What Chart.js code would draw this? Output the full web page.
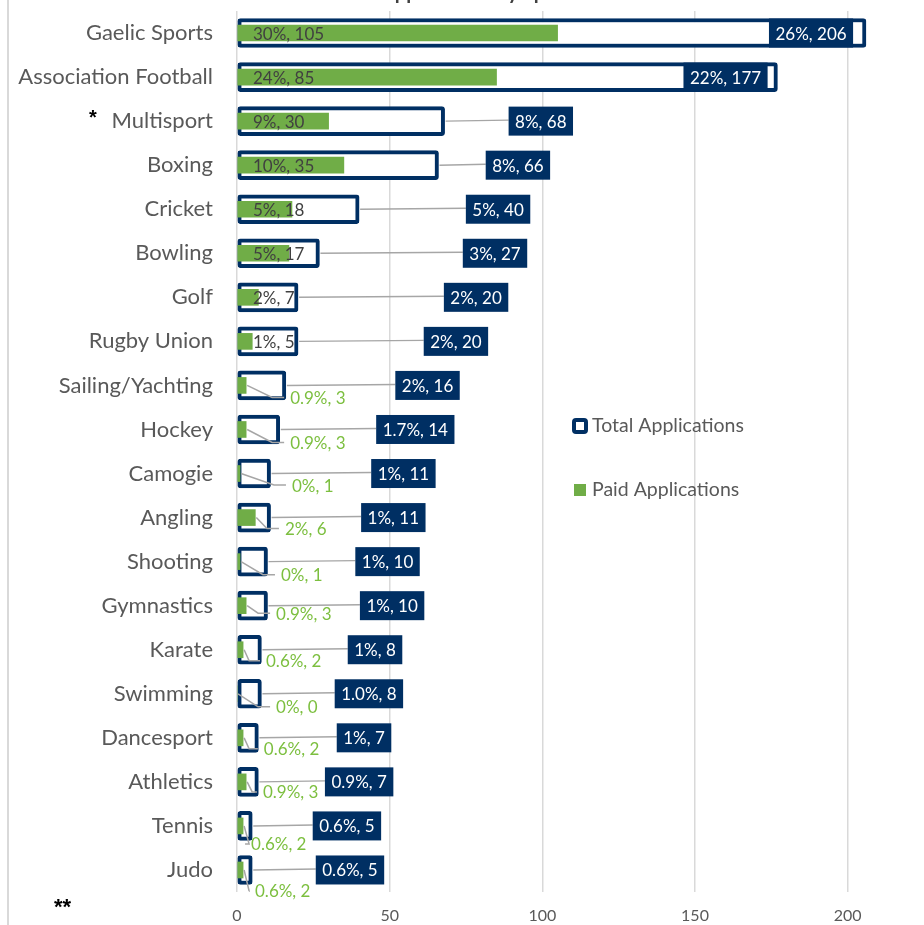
<!DOCTYPE html>
<html>
<head>
<meta charset="utf-8">
<script src="https://cdn.jsdelivr.net/npm/chart.js@4"></script>
<style>
  body { margin: 0; background: #fff; }
  #wrap { position: relative; width: 924px; height: 925px; overflow: hidden; }
  #wrap:before { content: ''; position: absolute; left: 7px; top: 0; bottom: 0; width: 2px; background: #d9d9d9; }
  canvas { position: absolute; left: 0; top: 0; }
</style>
</head>
<body>
<div id="wrap"><canvas id="chart" width="924" height="925"></canvas></div>
<script>
var sports = ['Gaelic Sports', 'Association Football', 'Multisport', 'Boxing', 'Cricket', 'Bowling', 'Golf', 'Rugby Union',
  'Sailing/Yachting', 'Hockey', 'Camogie', 'Angling', 'Shooting', 'Gymnastics', 'Karate', 'Swimming', 'Dancesport',
  'Athletics', 'Tennis', 'Judo'];
var totalApps = [206, 177, 68, 66, 40, 27, 20, 20, 16, 14, 11, 11, 10, 10, 8, 8, 7, 7, 5, 5];
var totalPct = ['26%', '22%', '8%', '8%', '5%', '3%', '2%', '2%', '2%', '1.7%', '1%', '1%', '1%', '1%', '1%', '1.0%', '1%', '0.9%', '0.6%', '0.6%'];
var paidApps = [105, 85, 30, 35, 18, 17, 7, 5, 3, 3, 1, 6, 1, 3, 2, 0, 2, 3, 2, 2];
var paidPct = ['30%', '24%', '9%', '10%', '5%', '5%', '2%', '1%', '0.9%', '0.9%', '0%', '2%', '0%', '0.9%', '0.6%', '0%', '0.6%', '0.9%', '0.6%', '0.6%'];
var xTicks = [0, 50, 100, 150, 200];

// where the labels were dragged to (axis units for x, pixels for y shift)
var totalLabelAt = [188, 160, 99.5, 92, 85.5, 84.5, 78.3, 71.7, 62.4, 58.4, 54.5, 51.2, 49.3, 50.8, 45.2, 43.2, 41.6, 40, 36, 37];
var paidLabelAt = [null, null, null, null, null, null, null, null, 17.4, 17.4, 18, 15.7, 14.4, 12.8, 9.5, 12.8, 8.8, 8.5, 4.6, 5.9];
var paidLabelDy = [0, 0, 0, 0, 0, 0, 0, 0, 13, 14, 12.5, 12, 14, 8.5, 12, 14, 12, 11, 19, 22];

var NAVY = '#002f63';
var GREEN = '#70ad47';
var FONT = 'Lato, "Liberation Sans", sans-serif';

var labelPlugin = {
  id: 'labels',
  afterDatasetsDraw: function(chart) {
    var c = chart.ctx, xs = chart.scales.x, ys = chart.scales.y;
    c.save();
    c.textBaseline = 'middle';
    c.font = '17px ' + FONT;
    for (var i = 0; i < sports.length; i++) {
      var y = ys.getPixelForValue(i);
      // total label box
      var txt = totalPct[i] + ', ' + totalApps[i];
      var w = c.measureText(txt).width + 13, h = 29;
      var cx = xs.getPixelForValue(totalLabelAt[i]);
      if (i >= 2) {
        c.strokeStyle = '#a6a6a6'; c.lineWidth = 1.5;
        c.beginPath(); c.moveTo(xs.getPixelForValue(totalApps[i]) + 1, y); c.lineTo(cx - w / 2, y - 1); c.stroke();
      }
      c.fillStyle = NAVY;
      c.fillRect(cx - w / 2, y - h / 2, w, h);
      c.fillStyle = '#fff'; c.textAlign = 'center';
      c.fillText(txt, cx, y + 1);
      // paid label
      var ptxt = paidPct[i] + ', ' + paidApps[i];
      c.textAlign = 'left';
      if (paidLabelAt[i] === null) {
        c.fillStyle = '#404040';
        c.fillText(ptxt, xs.getPixelForValue(0) + 16, y + 1);
      } else {
        var lx = xs.getPixelForValue(paidLabelAt[i]), ly = y + paidLabelDy[i];
        var sx = xs.getPixelForValue(paidApps[i]);
        c.strokeStyle = '#a6a6a6'; c.lineWidth = 1.5;
        c.beginPath(); c.moveTo(sx + 1, y); c.lineTo(Math.max(sx + 6, lx - 18), ly - 1); c.lineTo(lx - 6, ly - 1); c.stroke();
        c.fillStyle = '#7cbf3f';
        c.fillText(ptxt, lx, ly);
      }
    }
    c.restore();
  },
  afterDraw: function(chart) {
    var c = chart.ctx;
    c.save();
    // title, cut off at the top
    c.font = 'bold 20px ' + FONT;
    c.fillStyle = '#404040';
    c.textBaseline = 'alphabetic';
    c.textAlign = 'left';
    c.fillText('Applications by Sport', 381, -1);
    // legend
    c.strokeStyle = NAVY; c.lineWidth = 4;
    c.fillStyle = '#fff';
    c.beginPath(); c.roundRect(574, 420, 12, 12, 2); c.fill(); c.stroke();
    c.fillStyle = GREEN;
    c.fillRect(574, 484, 12, 12);
    c.font = '19.5px ' + FONT;
    c.fillStyle = '#595959';
    c.textBaseline = 'middle';
    c.fillText('Total Applications', 592, 426);
    c.fillText('Paid Applications', 592, 490);
    // footnote marks
    c.fillStyle = '#000';
    c.font = 'bold 20px "Liberation Sans", sans-serif';
    c.fillText('*', 89, 118);
    c.font = 'bold 22px "Liberation Sans", sans-serif';
    c.fillText('**', 54, 908);
    c.restore();
  }
};

var myChart = new Chart(document.getElementById('chart'), {
  type: 'bar',
  data: {
    labels: sports,
    datasets: [{
      label: 'Total Applications',
      data: totalApps,
      backgroundColor: '#ffffff',
      borderColor: NAVY,
      borderWidth: 4,
      borderRadius: 3,
      borderSkipped: false,
      barThickness: 29,
      grouped: false,
      order: 2
    }, {
      label: 'Paid Applications',
      data: paidApps,
      backgroundColor: GREEN,
      barThickness: 16,
      grouped: false,
      order: 1
    }]
  },
  options: {
    indexAxis: 'y',
    responsive: false,
    animation: false,
    layout: { padding: { top: 11, left: 0, right: 0, bottom: 0 } },
    plugins: { legend: { display: false }, tooltip: { enabled: false } },
    scales: {
      x: {
        min: 0, max: 225,
        afterBuildTicks: function(s) { s.ticks = xTicks.map(function(v) { return { value: v }; }); },
        afterFit: function(s) { s.height = 33; },
        grid: { color: '#d9d9d9', lineWidth: 1.5, drawTicks: false },
        border: { display: false },
        ticks: { padding: 14, color: '#595959', font: { family: FONT, size: 16 } }
      },
      y: {
        afterFit: function(s) { s.width = 237; },
        grid: { color: 'rgba(0,0,0,0)', drawOnChartArea: false, tickLength: 24 },
        border: { display: false },
        ticks: { padding: 0, color: '#595959', font: { family: FONT, size: 22, lineHeight: 1 } }
      }
    }
  },
  plugins: [labelPlugin]
});
</script>
</body>
</html>
